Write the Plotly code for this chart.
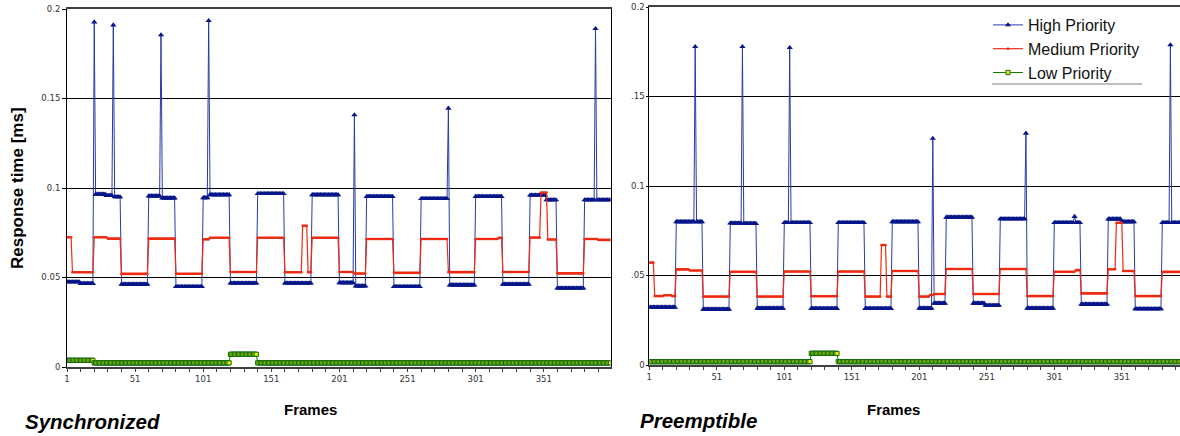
import numpy as np
import plotly.graph_objects as go

W, H = 1180, 436

# ---------------- DATA ----------------
frames = list(range(1, 401))
x_tick_values = [1, 51, 101, 151, 201, 251, 301, 351]
x_tick_labels = ["1", "51", "101", "151", "201", "251", "301", "351"]
y_tick_values = [0, 0.05, 0.1, 0.15, 0.2]
y_tick_labels_sync = ["0", "0.05", "0.1", "0.15", "0.2"]
y_tick_labels_pre = ["0", ".05", "0.1", ".15", "0.2"]
series_names = ["High Priority", "Medium Priority", "Low Priority"]

# Each series is a step list: frame where the value changes, and the new value
sync_high_frames = [1, 11, 21, 22, 30, 35, 36, 41, 61, 70, 71, 81, 101, 105, 106,
                    121, 141, 161, 181, 201, 212, 213, 221, 241, 261, 281, 282,
                    301, 321, 341, 353, 361, 381, 389, 390]
sync_high_values = [0.0475, 0.0466, 0.1927, 0.0965, 0.0958, 0.1910, 0.0950, 0.0462,
                    0.0955, 0.1855, 0.0944, 0.0449, 0.0945, 0.1935, 0.0962,
                    0.0468, 0.0968, 0.0468, 0.0962, 0.0470, 0.1408, 0.0452,
                    0.0952, 0.0449, 0.0940, 0.1445, 0.0458, 0.0952, 0.0462,
                    0.0960, 0.0933, 0.0440, 0.0933, 0.1890, 0.0933]

sync_mid_frames = [1, 5, 21, 31, 41, 61, 81, 101, 106, 121, 141, 161, 174, 178,
                   181, 201, 212, 221, 241, 261, 281, 301, 318, 321, 341, 349,
                   354, 361, 381, 391]
sync_mid_values = [0.0725, 0.0529, 0.0725, 0.0717, 0.0520, 0.0717, 0.0521, 0.0713,
                   0.0722, 0.0531, 0.0722, 0.0529, 0.0789, 0.0530, 0.0722, 0.0531,
                   0.0522, 0.0715, 0.0526, 0.0715, 0.0530, 0.0715, 0.0722, 0.0531,
                   0.0723, 0.0975, 0.0712, 0.0523, 0.0715, 0.0710]

sync_low_frames = [1, 21, 121, 141]
sync_low_values = [0.0037, 0.0023, 0.0071, 0.0023]

pre_high_frames = [1, 21, 35, 36, 41, 61, 70, 71, 81, 101, 105, 106, 121, 141,
                   161, 181, 201, 211, 212, 221, 241, 250, 261, 280, 281, 301,
                   316, 317, 321, 341, 351, 361, 381, 387, 388]
pre_high_values = [0.0322, 0.0800, 0.1778, 0.0800, 0.0311, 0.0792, 0.1778, 0.0790,
                   0.0317, 0.0795, 0.1773, 0.0795, 0.0315, 0.0795, 0.0315, 0.0800,
                   0.0317, 0.1266, 0.0345, 0.0825, 0.0345, 0.0333, 0.0816, 0.1294,
                   0.0317, 0.0795, 0.0829, 0.0795, 0.0339, 0.0815, 0.0800, 0.0313,
                   0.0795, 0.1788, 0.0795]

pre_mid_frames = [1, 5, 12, 18, 21, 31, 41, 61, 81, 101, 121, 141, 161, 173, 177,
                  181, 201, 209, 212, 221, 241, 261, 281, 301, 317, 321, 341, 347,
                  352, 361, 381]
pre_mid_values = [0.0572, 0.0385, 0.0390, 0.0385, 0.0534, 0.0528, 0.0382, 0.0521,
                  0.0382, 0.0522, 0.0384, 0.0522, 0.0382, 0.0670, 0.0382, 0.0525,
                  0.0382, 0.0391, 0.0397, 0.0536, 0.0397, 0.0536, 0.0385, 0.0521,
                  0.0530, 0.0400, 0.0535, 0.0795, 0.0525, 0.0385, 0.0520]

pre_low_frames = [1, 121, 141]
pre_low_values = [0.0019, 0.0065, 0.0019]


def steps_to_series(step_frames, step_values):
    idx = np.searchsorted(np.array(step_frames), np.array(frames), side="right") - 1
    return [step_values[i] for i in idx]


# ---------------- STYLE ----------------
NAVY = "#06168a"
RED = "#ee2a12"
GREEN = "#0a7a0a"
DKGREEN = "#0b6a10"
YELLOW = "#f0f000"
TICKFONT = dict(family="DejaVu Sans", size=8.5, color="#333333")

styles = [
    dict(line=dict(color="#2a3aa8", width=1),
         marker=dict(symbol="triangle-up", size=5.5, color=NAVY, line=dict(width=0))),
    dict(line=dict(color=RED, width=1.2),
         marker=dict(symbol="circle", size=2.6, color=RED, line=dict(width=0))),
    dict(line=dict(color=GREEN, width=1),
         marker=dict(symbol="square", size=4.2, color=YELLOW, line=dict(color=DKGREEN, width=1))),
]

fig = go.Figure()

charts = [
    ("x", "y", [(sync_high_frames, sync_high_values), (sync_mid_frames, sync_mid_values),
                (sync_low_frames, sync_low_values)], False),
    ("x2", "y2", [(pre_high_frames, pre_high_values), (pre_mid_frames, pre_mid_values),
                  (pre_low_frames, pre_low_values)], True),
]
for xa, ya, series, show in charts:
    for name, (sf, sv), st in zip(series_names, series, styles):
        fig.add_trace(go.Scatter(
            x=frames, y=steps_to_series(sf, sv), name=name, mode="lines+markers",
            line=st["line"], marker=st["marker"], xaxis=xa, yaxis=ya,
            showlegend=show, hoverinfo="x+y+name"))


def px_x(p):
    return p / W


def px_y(p):
    return (H - p) / H


xaxis_common = dict(
    tickmode="array", tickvals=x_tick_values, ticktext=x_tick_labels,
    tickfont=TICKFONT, ticks="outside", ticklen=3, tickcolor="#404040", tickwidth=1,
    showline=True, linecolor="#404040", linewidth=2, mirror=True,
    showgrid=False, zeroline=False, automargin=False,
    minor=dict(tick0=1, dtick=10, ticks="outside", ticklen=3, tickcolor="#404040",
               tickwidth=1, showgrid=False),
)
yaxis_common = dict(
    tickmode="array", tickvals=y_tick_values,
    tickfont=TICKFONT, ticks="outside", tickcolor="#000000", tickwidth=1,
    showline=True, linecolor="#000000", linewidth=1,
    showgrid=True, gridcolor="#000000", gridwidth=1, zeroline=False,
    range=[0, 0.2], automargin=False,
)

fig.update_layout(
    template="none",
    width=W, height=H,
    margin=dict(l=0, r=0, t=0, b=0, pad=0),
    paper_bgcolor="white", plot_bgcolor="white",
    font=dict(family="Liberation Sans", color="#000000"),
    xaxis=dict(xaxis_common, domain=[px_x(67), px_x(610.5)], range=[1, 400], anchor="y"),
    yaxis=dict(yaxis_common, domain=[px_y(367), px_y(9)], ticktext=y_tick_labels_sync,
               ticklen=4, mirror=True, anchor="x"),
    xaxis2=dict(xaxis_common, domain=[px_x(649.3), 1.0],
                range=[1, 1 + (1180 - 649.3) / 1.35], anchor="y2"),
    yaxis2=dict(yaxis_common, domain=[px_y(365), px_y(7)], ticktext=y_tick_labels_pre,
                ticklen=2, anchor="x2"),
    legend=dict(x=px_x(988), y=px_y(8), xanchor="left", yanchor="top",
                bgcolor="rgba(255,255,255,0)", borderwidth=0,
                font=dict(family="Liberation Sans", size=16, color="#111111"),
                tracegroupgap=0, itemwidth=30),
    showlegend=True,
)

fig.add_shape(type="line", xref="paper", yref="paper",
              x0=px_x(992), x1=px_x(1142), y0=px_y(84), y1=px_y(84),
              line=dict(color="#808080", width=1))

ann = [
    ("Synchronized", 92, 421, 20.5, True, True, 0),
    ("Preemptible", 698, 420, 20.5, True, True, 0),
    ("Frames", 310.5, 409, 15, True, False, 0),
    ("Frames", 893.5, 409, 15, True, False, 0),
    ("Response time [ms]", 17, 188, 17, True, False, -90),
]
for text, ax, ay, size, bold, italic, rot in ann:
    t = text
    if bold:
        t = "<b>" + t + "</b>"
    if italic:
        t = "<i>" + t + "</i>"
    fig.add_annotation(text=t, x=px_x(ax), y=px_y(ay), xref="paper", yref="paper",
                       xanchor="center", yanchor="middle", showarrow=False,
                       textangle=rot, font=dict(family="Liberation Sans", size=size,
                                                color="#000000"))

fig.write_html("out.html", config={"displayModeBar": False},
               post_script="document.body.style.margin='0';document.body.style.overflow='hidden';")
